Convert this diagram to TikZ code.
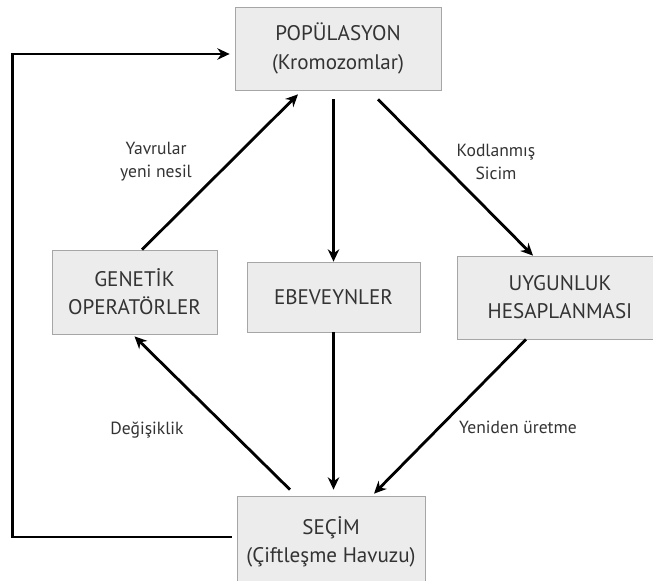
\documentclass[tikz,border=0pt]{standalone}
\usepackage{fontspec}
\setmainfont{PT Sans}
\usepackage{tikz}
\usetikzlibrary{arrows.meta,calc}

\tikzset{
  kutu/.style={draw=gray!70,fill=gray!15,text=black!80,align=center,
    inner sep=0pt,font=\fontsize{12}{16}\selectfont},
  etiket/.style={text=black!80,align=center,font=\fontsize{10}{13}\selectfont},
  ok/.style={->,line width=1.6pt},
  >={Stealth[length=7pt,width=6.5pt]}
}

\begin{document}
\begin{tikzpicture}
      \useasboundingbox (0,0) rectangle (13.06,11.6);
      \node[kutu,minimum width=4.12cm,minimum height=1.66cm] (pop) at (6.76,10.63) {POPÜLASYON\\(Kromozomlar)};
      \node[kutu,minimum width=3.3cm,minimum height=1.68cm] (gen) at (2.69,5.76) {GENETİK\\OPERATÖRLER};
      \node[kutu,minimum width=3.46cm,minimum height=1.4cm] (ebe) at (6.67,5.66) {EBEVEYNLER};
      \node[kutu,minimum width=4.12cm,minimum height=1.66cm] (uyg) at (11.2,5.65) {UYGUNLUK\\HESAPLANMASI};
      \node[kutu,minimum width=3.76cm,minimum height=1.84cm] (sec) at (6.62,0.76) {SEÇİM\\(Çiftleşme Havuzu)};
      \node[etiket] (yavru) at (3.12,8.36) {Yavrular\\yeni nesil};
      \node[etiket] (kodlu) at (9.92,8.36) {Kodlanmış\\Sicim};
      \node[etiket] (degis) at (2.94,3.0) {Değişiklik};
      \node[etiket] (uret) at (10.36,3.06) {Yeniden üretme};
      \draw[ok] ([xshift=0.15cm]gen.north) -- ([shift={(-0.8,-0.08)}]pop.south);
      \draw[ok] (ebe.north |- pop.south) ++(0,-0.18) -- (ebe.north);
      \draw[ok] ([shift={(0.8,-0.18)}]pop.south) -- ([xshift=-0.54cm]uyg.north);
      \draw[ok] ([shift={(-0.82,0.12)}]sec.north) -- ([yshift=-0.04cm]gen.south);
      \draw[ok] (ebe.south) -- ([yshift=0.12cm]ebe.south |- sec.north);
      \draw[ok] ([xshift=-0.68cm]uyg.south) -- ([shift={(0.86,0.04)}]sec.north);
      \draw[ok] ([shift={(-0.1,0.1)}]sec.west) -- ++(-4.38,0) |- ([shift={(-0.1,-0.11)}]pop.west);
\end{tikzpicture}
\end{document}
